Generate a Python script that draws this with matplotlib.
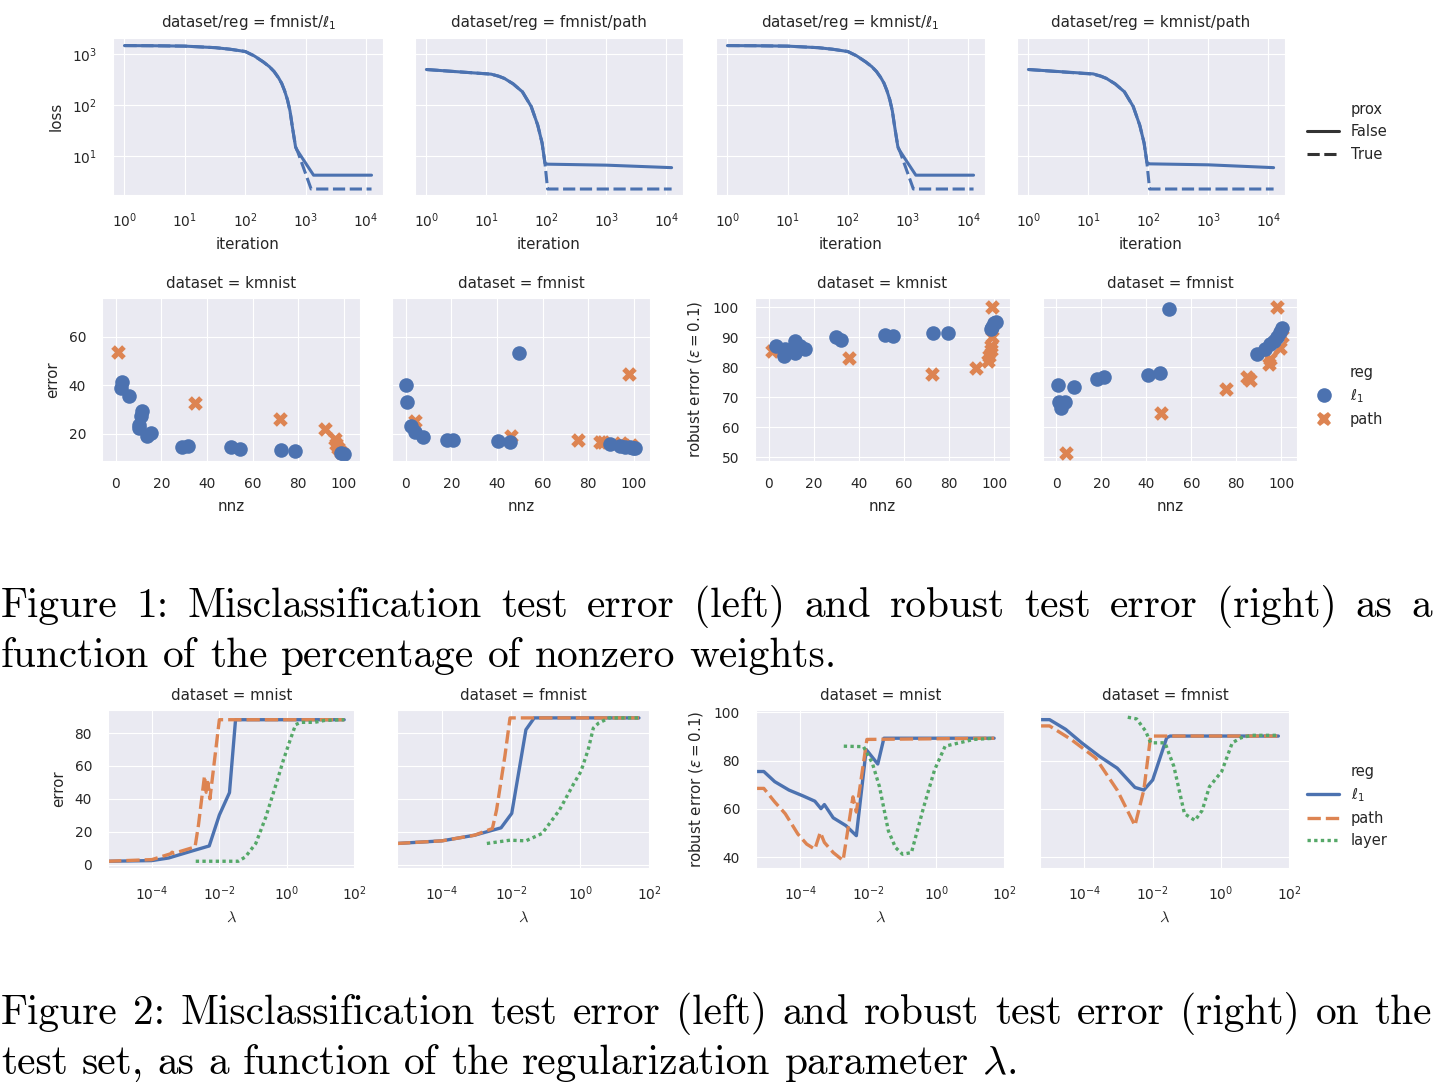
import numpy as np
import matplotlib.pyplot as plt
import seaborn as sns
from matplotlib.lines import Line2D
from matplotlib.ticker import FixedLocator, NullLocator
from matplotlib.transforms import IdentityTransform

W, H = 1433, 1082
BLUE, ORANGE, GREEN = '#4C72B0', '#DD8452', '#55A868'

# ---------------- row 1: training loss vs iteration ----------------
l1_iter = [1, 3, 10, 32, 56, 100, 141, 200, 251, 300, 355, 400, 447, 500, 550, 600, 680, 720, 1350, 12300]
l1_loss_noprox = [1450, 1440, 1415, 1320, 1230, 1110, 910, 690, 560, 450, 340, 265, 190, 125, 76, 38, 15, 13, 4.2, 4.2]
l1_iter_prox = [1, 3, 10, 32, 56, 100, 141, 200, 251, 300, 355, 400, 447, 500, 550, 600, 680, 740, 1230, 12300]
l1_loss_prox = [1450, 1440, 1415, 1320, 1230, 1110, 910, 690, 560, 450, 340, 265, 190, 125, 76, 38, 15, 12, 2.25, 2.25]

path_iter = [1, 12, 16, 20, 28, 40, 56, 72, 85, 95, 105, 1000, 12300]
fm_path_noprox = [493, 400, 365, 330, 258, 180, 93, 40, 18, 7.2, 6.9, 6.6, 5.9]
km_path_noprox = [493, 405, 368, 330, 258, 180, 93, 40, 18, 7.4, 7.0, 6.7, 5.9]
path_iter_prox = [1, 12, 16, 20, 28, 40, 56, 72, 85, 95, 105, 12300]
path_loss_prox = [493, 400, 365, 330, 258, 180, 93, 40, 18, 7.2, 2.25, 2.25]

# ---------------- row 2: error vs nnz ----------------
km_l1_nnz = [2.8, 2.5, 5.8, 11.7, 11.2, 10.2, 10.2, 13.9, 15.6, 29.1, 31.7, 50.7, 54.6, 72.6, 78.4, 98.8, 100]
km_l1_err = [41.2, 38.9, 35.4, 29.2, 27.4, 23.6, 22.2, 19.2, 20.1, 14.6, 15.0, 14.6, 13.5, 13.2, 12.9, 12.1, 11.5]
km_path_nnz = [1.0, 34.9, 71.8, 91.5, 96.2, 96.6, 97.4, 98.5]
km_path_err = [53.8, 32.6, 26.0, 21.8, 17.8, 15.7, 13.9, 12.5]
fm_l1_nnz = [49.5, 0.3, 0.4, 2.2, 4.0, 7.6, 17.9, 20.5, 40.3, 45.8, 89.3, 93.7, 95.9, 98.1, 99.6, 100.3]
fm_l1_err = [53.1, 39.9, 33.1, 23.2, 20.8, 18.8, 17.4, 17.4, 17.1, 16.5, 15.6, 14.9, 14.6, 14.3, 14.2, 14.0]
fm_path_nnz = [4.0, 46.1, 75.4, 84.9, 86.4, 94.4, 98.5, 97.8]
fm_path_err = [25.4, 19.0, 17.4, 16.7, 16.7, 16.3, 15.3, 44.7]

# ---------------- row 2: robust error vs nnz ----------------
km_l1_rnnz = [3.4, 6.7, 7.4, 9.6, 11.6, 11.9, 14.1, 16.3, 29.7, 32.2, 51.5, 55.3, 73.0, 79.4, 99.0, 100.1, 100.9, 98.7]
km_l1_rob = [87.1, 83.7, 86.0, 85.4, 88.8, 84.8, 87.1, 86.0, 89.9, 89.1, 90.8, 90.2, 91.3, 91.3, 93.3, 94.6, 95.0, 92.7]
km_path_rnnz = [1.5, 35.6, 72.4, 92.0, 97.2, 97.9, 98.4, 98.7, 99.1, 99.0]
km_path_rob = [85.2, 83.1, 77.8, 79.8, 82.0, 83.7, 85.6, 87.1, 89.9, 100]
fm_l1_rnnz = [49.9, 0.6, 8.0, 1.0, 2.5, 3.9, 2.2, 18.1, 21.0, 40.6, 46.2, 89.2, 92.9, 95.1, 96.6, 98.1, 100.3, 99.6]
fm_l1_rob = [99.2, 73.9, 73.5, 68.5, 68.0, 68.5, 66.3, 76.1, 76.7, 77.2, 78.1, 84.3, 86.0, 87.6, 88.8, 89.9, 92.9, 91.6]
fm_path_rnnz = [4.4, 46.7, 75.6, 84.7, 86.2, 94.4, 95.1, 98.1, 99.6, 100.3]
fm_path_rob = [51.3, 64.6, 72.7, 76.7, 75.8, 80.9, 82.8, 100, 86.2, 90.4]

# ---------------- row 3: error vs lambda (log10 lambda) ----------------
mn_l1_lam = [-5.3, -4.0, -3.5, -2.9, -2.3, -2.0, -1.7, -1.52, 1.7]
mn_l1_e = [2.1, 2.5, 4.1, 7.8, 11.4, 30.2, 43.8, 88.1, 88.1]
mn_path_lam = [-5.3, -4.0, -3.45, -3.4, -3.35, -2.72, -2.62, -2.44, -2.39, -2.34, -2.28, -2.0, 1.7]
mn_path_e = [2.1, 3.1, 6.6, 7.6, 6.9, 10.8, 24.0, 54.0, 44.0, 50.0, 40.0, 88.1, 88.1]
mn_layer_lam = [-2.7, -1.44, -1.23, -0.92, -0.62, -0.31, -0.1, 0.1, 0.26, 0.41, 0.82, 1.13, 1.7]
mn_layer_e = [2.1, 2.1, 4.7, 12.9, 29.1, 49.5, 63.7, 75.9, 85.1, 86.5, 86.5, 87.7, 88.1]

fm_l1_lam = [-5.3, -4.0, -3.06, -2.29, -1.98, -1.57, -1.33, 1.7]
fm_l1_e = [12.9, 14.5, 17.9, 22.4, 31.2, 82.0, 89.2, 89.2]
fm_path_lam = [-5.3, -4.0, -3.06, -2.54, -2.42, -2.18, -2.03, 1.7]
fm_path_e = [12.9, 14.5, 17.9, 22.0, 33.2, 65.8, 89.2, 89.2]
fm_layer_lam = [-2.7, -2.03, -1.57, -1.1, -0.6, -0.18, 0.02, 0.23, 0.38, 0.53, 0.84, 1.7]
fm_layer_e = [12.9, 14.9, 14.5, 19.0, 33.2, 49.5, 56.6, 69.8, 83.0, 86.0, 89.2, 89.2]

mn_l1_rlam = [-5.33, -5.07, -4.75, -4.33, -3.92, -3.57, -3.39, -3.29, -3.03, -2.66, -2.35, -2.06, -1.72, -1.54, 1.7]
mn_l1_r = [75.5, 75.5, 71.3, 67.8, 65.4, 63.2, 60.1, 61.8, 56.3, 53.1, 48.9, 84.6, 78.6, 89.3, 89.3]
mn_path_rlam = [-5.33, -5.07, -4.75, -4.44, -4.07, -3.81, -3.57, -3.41, -3.29, -3.03, -2.74, -2.45, -2.35, -2.04, 1.7]
mn_path_r = [68.5, 68.5, 62.9, 58.0, 49.6, 45.4, 43.3, 50.3, 46.1, 41.9, 38.6, 65.0, 58.7, 88.8, 89.3]
mn_layer_rlam = [-2.72, -2.14, -1.88, -1.67, -1.41, -1.2, -0.99, -0.73, -0.37, -0.05, 0.26, 0.68, 1.1, 1.7]
mn_layer_r = [86.0, 85.8, 79.0, 69.2, 51.0, 44.0, 41.2, 41.9, 60.8, 76.2, 86.0, 87.4, 88.8, 89.3]

fm_l1_rlam = [-5.3, -5.02, -4.55, -4.08, -3.56, -3.04, -2.52, -2.26, -2.0, -1.59, -1.49, 1.68]
fm_l1_r = [97.0, 97.0, 93.0, 87.4, 81.8, 76.9, 68.9, 67.8, 72.0, 89.5, 90.2, 90.2]
fm_path_rlam = [-5.3, -5.02, -4.39, -3.67, -3.04, -2.52, -2.26, -2.06, 1.68]
fm_path_r = [94.4, 94.4, 88.8, 81.1, 67.8, 53.1, 67.8, 90.2, 90.2]
fm_layer_rlam = [-2.73, -2.47, -2.21, -2.06, -1.64, -1.38, -1.07, -0.76, -0.55, -0.34, 0.02, 0.33, 0.59, 0.9, 1.68]
fm_layer_r = [98.0, 97.3, 92.3, 87.4, 87.4, 77.6, 58.0, 55.2, 59.4, 69.2, 75.5, 87.4, 89.5, 90.5, 90.5]

caption1 = ["Figure 1: Misclassification test error (left) and robust test error (right) as a",
            "function of the percentage of nonzero weights."]
caption2 = ["Figure 2: Misclassification test error (left) and robust test error (right) on the",
            "test set, as a function of the regularization parameter $\\lambda$."]

sns.set_style('darkgrid')
plt.rcParams['font.family'] = ['DejaVu Sans']
plt.rcParams['text.color'] = '.15'
plt.rcParams['xtick.color'] = '.15'
plt.rcParams['ytick.color'] = '.15'
plt.rcParams['axes.labelcolor'] = '.15'

TICK, LAB, TTL, LEG = 9.9, 10.8, 10.8, 10.5
LW = 2.2

fig = plt.figure(figsize=(W / 100, H / 100), dpi=100)


def box(l, t, r, b):
    return [l / W, 1 - b / H, (r - l) / W, (b - t) / H]


def style(ax):
    ax.tick_params(labelsize=TICK, pad=11.5, length=0)
    ax.xaxis.set_minor_locator(NullLocator())
    ax.yaxis.set_minor_locator(NullLocator())


# ---------- row 1 ----------
r1 = [(113, 383), (415, 683), (716, 985), (1017, 1285)]
r1_titles = ['dataset/reg = fmnist/$\\ell_1$', 'dataset/reg = fmnist/path',
             'dataset/reg = kmnist/$\\ell_1$', 'dataset/reg = kmnist/path']
r1_data = [(l1_iter, l1_loss_noprox, l1_iter_prox, l1_loss_prox),
           (path_iter, fm_path_noprox, path_iter_prox, path_loss_prox),
           (l1_iter, l1_loss_noprox, l1_iter_prox, l1_loss_prox),
           (path_iter, km_path_noprox, path_iter_prox, path_loss_prox)]
first = None
for (l, r), ttl, (xa, ya, xb, yb) in zip(r1, r1_titles, r1_data):
    ax = fig.add_axes(box(l, 38, r, 195), sharey=first)
    ax.set_xscale('log')
    ax.set_yscale('log')
    ax.plot(xb, yb, color=BLUE, lw=LW, ls=(0, (4, 1.5)))
    ax.plot(xa, ya, color=BLUE, lw=LW)
    ax.set_xlim(10 ** -0.19, 10 ** 4.28)
    ax.set_ylim(10 ** 0.235, 10 ** 3.31)
    ax.xaxis.set_major_locator(FixedLocator([1, 10, 100, 1000, 10000]))
    ax.yaxis.set_major_locator(FixedLocator([10, 100, 1000]))
    style(ax)
    ax.set_title(ttl, fontsize=TTL, pad=8)
    ax.set_xlabel('iteration', fontsize=LAB, labelpad=5)
    if first is None:
        first = ax
        ax.set_ylabel('loss', fontsize=LAB, labelpad=6)
    else:
        ax.tick_params(labelleft=False)

h1 = [Line2D([], [], color='none'), Line2D([], [], color='.2', lw=LW),
      Line2D([], [], color='.2', lw=LW, ls=(0, (4, 1.5)))]
fig.legend(h1, ['prox', 'False', 'True'], loc='center left', frameon=False,
           bbox_to_anchor=(1294 / W, 1 - 132 / H), fontsize=LEG, handlelength=2.2)

# ---------- row 2 ----------
r2 = [(102, 360), (392, 650), (755, 1010), (1043, 1297)]
r2_titles = ['dataset = kmnist', 'dataset = fmnist', 'dataset = kmnist', 'dataset = fmnist']
r2_data = [(km_l1_nnz, km_l1_err, km_path_nnz, km_path_err),
           (fm_l1_nnz, fm_l1_err, fm_path_nnz, fm_path_err),
           (km_l1_rnnz, km_l1_rob, km_path_rnnz, km_path_rob),
           (fm_l1_rnnz, fm_l1_rob, fm_path_rnnz, fm_path_rob)]
S = 110
share = None
for i, ((l, r), ttl, (xa, ya, xb, yb)) in enumerate(zip(r2, r2_titles, r2_data)):
    ax = fig.add_axes(box(l, 298, r, 461), sharey=share if i % 2 else None)
    ax.scatter(xb, yb, s=S, marker='X', color=ORANGE, linewidths=0)
    ax.scatter(xa, ya, s=S, marker='o', color=BLUE, linewidths=0)
    ax.set_xlim(-6, 107)
    ax.xaxis.set_major_locator(FixedLocator([0, 20, 40, 60, 80, 100]))
    style(ax)
    ax.set_title(ttl, fontsize=TTL, pad=7)
    ax.set_xlabel('nnz', fontsize=LAB, labelpad=6)
    if i == 0:
        ax.set_ylim(8.7, 76)
        ax.yaxis.set_major_locator(FixedLocator([20, 40, 60]))
        ax.set_ylabel('error', fontsize=LAB, labelpad=6)
        share = ax
    elif i == 2:
        ax.set_ylim(48.7, 103)
        ax.yaxis.set_major_locator(FixedLocator([50, 60, 70, 80, 90, 100]))
        ax.set_ylabel('robust error ($\\varepsilon = 0.1$)', fontsize=LAB, labelpad=6)
        share = ax
    else:
        ax.tick_params(labelleft=False)

h2 = [Line2D([], [], color='none'),
      Line2D([], [], ls='none', marker='o', ms=10.5, color=BLUE, mew=0),
      Line2D([], [], ls='none', marker='X', ms=10.5, color=ORANGE, mew=0)]
fig.legend(h2, ['reg', '$\\ell_1$', 'path'], loc='center left', frameon=False,
           bbox_to_anchor=(1296 / W, 1 - 396 / H), fontsize=LEG, handlelength=2.0)

# ---------- row 3 ----------
r3 = [(108, 355), (397, 650), (756, 1005), (1040, 1290)]
r3_titles = ['dataset = mnist', 'dataset = fmnist', 'dataset = mnist', 'dataset = fmnist']
r3_data = [((mn_l1_lam, mn_l1_e), (mn_path_lam, mn_path_e), (mn_layer_lam, mn_layer_e)),
           ((fm_l1_lam, fm_l1_e), (fm_path_lam, fm_path_e), (fm_layer_lam, fm_layer_e)),
           ((mn_l1_rlam, mn_l1_r), (mn_path_rlam, mn_path_r), (mn_layer_rlam, mn_layer_r)),
           ((fm_l1_rlam, fm_l1_r), (fm_path_rlam, fm_path_r), (fm_layer_rlam, fm_layer_r))]
styles = [(BLUE, '-'), (ORANGE, (0, (4, 1.5))), (GREEN, (0, (1, 1)))]
share = None
for i, ((l, r), ttl, series) in enumerate(zip(r3, r3_titles, r3_data)):
    ax = fig.add_axes(box(l, 710, r, 868), sharey=share if i % 2 else None)
    ax.set_xscale('log')
    for (lam, val), (c, ls) in zip(series, styles):
        ax.plot(10 ** np.array(lam), val, color=c, ls=ls, lw=LW + 0.2)
    ax.set_xlim(10 ** -5.3, 10 ** 2.02)
    ax.xaxis.set_major_locator(FixedLocator([1e-4, 1e-2, 1, 1e2]))
    style(ax)
    ax.set_title(ttl, fontsize=TTL, pad=7)
    ax.set_xlabel('$\\lambda$', fontsize=LAB + 1, labelpad=5, math_fontfamily='cm')
    if i == 0:
        ax.set_ylim(-2, 94)
        ax.yaxis.set_major_locator(FixedLocator([0, 20, 40, 60, 80]))
        ax.set_ylabel('error', fontsize=LAB, labelpad=6)
        share = ax
    elif i == 2:
        ax.set_ylim(35.5, 101)
        ax.yaxis.set_major_locator(FixedLocator([40, 60, 80, 100]))
        ax.set_ylabel('robust error ($\\varepsilon = 0.1$)', fontsize=LAB, labelpad=6)
        share = ax
    else:
        ax.tick_params(labelleft=False)

h3 = [Line2D([], [], color='none')] + [Line2D([], [], color=c, ls=ls, lw=LW + 0.2) for c, ls in styles]
fig.legend(h3, ['reg', '$\\ell_1$', 'path', 'layer'], loc='center left', frameon=False,
           bbox_to_anchor=(1294 / W, 1 - 806 / H), fontsize=LEG, handlelength=2.2)

# ---------- captions (justified, like the paper) ----------
CAP = 29.8
rend = fig.canvas.get_renderer()


def caption(lines, base0):
    for k, line in enumerate(lines):
        words = line.split(' ')
        base = H - (base0 + 50 * k)
        objs = [fig.text(0, base, w, transform=IdentityTransform(), fontsize=CAP,
                         family='cmr10', math_fontfamily='cm', va='baseline', color='black')
                for w in words]
        widths = [o.get_window_extent(renderer=rend).width for o in objs]
        if k == len(lines) - 1:
            gap = 0.33 * CAP * 100 / 72
        else:
            gap = (W - 2 - sum(widths)) / (len(words) - 1)
        x = 1
        for o, w in zip(objs, widths):
            o.set_x(x)
            x += w + gap


caption(caption1, 617)
caption(caption2, 1024)

fig.savefig('out.png', dpi=100)
